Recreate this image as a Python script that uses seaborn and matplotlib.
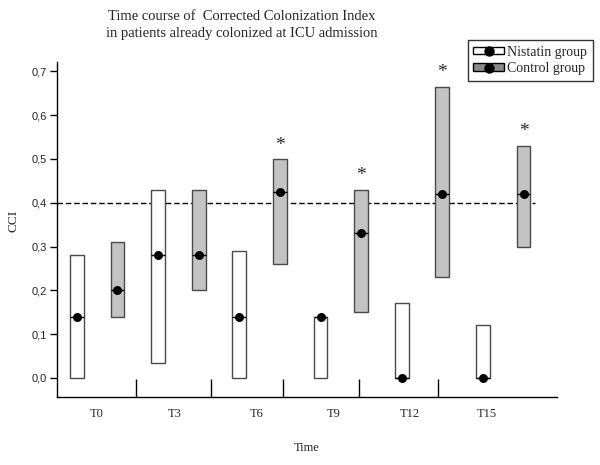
import numpy as np
import pandas as pd
import seaborn as sns
import matplotlib
import matplotlib.pyplot as plt
from matplotlib.patches import Patch
from matplotlib.lines import Line2D
from matplotlib.legend_handler import HandlerTuple

matplotlib.use("Agg")

# data
times = ["T0", "T3", "T6", "T9", "T12", "T15"]
nist_low = [0.0, 0.035, 0.0, 0.0, 0.0, 0.0]
nist_high = [0.28, 0.43, 0.29, 0.14, 0.17, 0.12]
nist_med = [0.14, 0.28, 0.14, 0.14, 0.0, 0.0]
ctrl_low = [0.14, 0.20, 0.26, 0.15, 0.23, 0.30]
ctrl_high = [0.31, 0.43, 0.50, 0.43, 0.665, 0.53]
ctrl_med = [0.20, 0.28, 0.425, 0.33, 0.42, 0.42]
significant = [False, False, True, True, True, True]
threshold = 0.4
yticks = [0.0, 0.1, 0.2, 0.3, 0.4, 0.5, 0.6, 0.7]

# layout (where the reference puts its labels / separators)
label_pos = [0.49, 2.42, 4.43, 6.33, 8.2, 10.1]
sep_pos = [1.45, 3.3, 5.07, 6.95, 8.9]

sns.set_style("ticks")
plt.rcParams["font.family"] = ["Liberation Serif", "DejaVu Serif"]

rows = []
for i, t in enumerate(times):
    rows.append(dict(time=t, group="Nistatin group", pos=2 * i,
                     low=nist_low[i], high=nist_high[i], med=nist_med[i]))
    rows.append(dict(time=t, group="Control group", pos=2 * i + 1,
                     low=ctrl_low[i], high=ctrl_high[i], med=ctrl_med[i]))
df = pd.DataFrame(rows)

fill = {"Nistatin group": "white", "Control group": "#c3c3c3"}
edge = "#4a4a4a"
width = 0.34

fig = plt.figure(figsize=(6, 4.65), dpi=100)
ax = fig.add_axes([0.095, 0.1462, 0.833, 0.7194])

ax.bar(df["pos"], df["high"] - df["low"], bottom=df["low"], width=width,
       color=[fill[g] for g in df["group"]], edgecolor=edge, linewidth=1.0, zorder=2)
ax.hlines(df["med"], df["pos"] - width / 2, df["pos"] + width / 2,
          color="black", linewidth=1.0, zorder=3)
sns.scatterplot(data=df, x="pos", y="med", color="black", s=42,
                edgecolor="black", linewidth=0, legend=False, ax=ax, zorder=4)

ax.plot([-0.49, 11.28], [threshold, threshold], color="black", lw=1.0,
        dashes=(4, 2), zorder=1)

for i, sig in enumerate(significant):
    if sig:
        ax.text(2 * i + 1, ctrl_high[i] + 0.012, "*", ha="center", va="bottom",
                fontsize=14)

ax.set_xlim(-0.49, 11.82)
ax.set_ylim(-0.0435, 0.72)
ax.set_yticks(yticks)
ax.set_yticklabels([f"{v:.1f}".replace(".", ",") for v in yticks],
                   family="Liberation Sans", fontsize=8)
ax.tick_params(axis="y", length=5, width=1, color="black", pad=2)

ax.set_xticks(label_pos)
ax.set_xticklabels(times, fontsize=9)
ax.tick_params(axis="x", which="major", length=0, pad=8)
ax.set_xticks(sep_pos, minor=True)
ax.tick_params(axis="x", which="minor", direction="in", length=13, width=1,
               color="black")

sns.despine(ax=ax)
for s in ["left", "bottom"]:
    ax.spines[s].set_color("black")
    ax.spines[s].set_linewidth(1.0)

ax.set_xlabel("Time", fontsize=9, labelpad=16)
ax.set_ylabel("")
fig.text(0.022, 0.525, "CCI", rotation=90, ha="center", va="center", fontsize=9.5)

fig.text(0.403, 0.946, "Time course of  Corrected Colonization Index\n"
         "in patients already colonized at ICU admission",
         ha="center", va="center", fontsize=10.5, linespacing=1.45)

dot = Line2D([], [], marker="o", color="black", ls="", markersize=6.5)
handles = [
    (Patch(facecolor="white", edgecolor="black", lw=1), dot),
    (Patch(facecolor="#8a8a8a", edgecolor="black", lw=1), dot),
]
leg = fig.legend(handles, ["Nistatin group", "Control group"],
                 handler_map={tuple: HandlerTuple(ndivide=1, pad=0)},
                 loc="upper right", bbox_to_anchor=(0.988, 0.914),
                 fontsize=10, frameon=True, fancybox=False, handlelength=2.2,
                 handleheight=0.45, handletextpad=0.25, borderpad=0.4,
                 labelspacing=0.25, borderaxespad=0)
leg.get_frame().set_edgecolor("black")
leg.get_frame().set_linewidth(1.0)

fig.savefig("out.png", dpi=100)
